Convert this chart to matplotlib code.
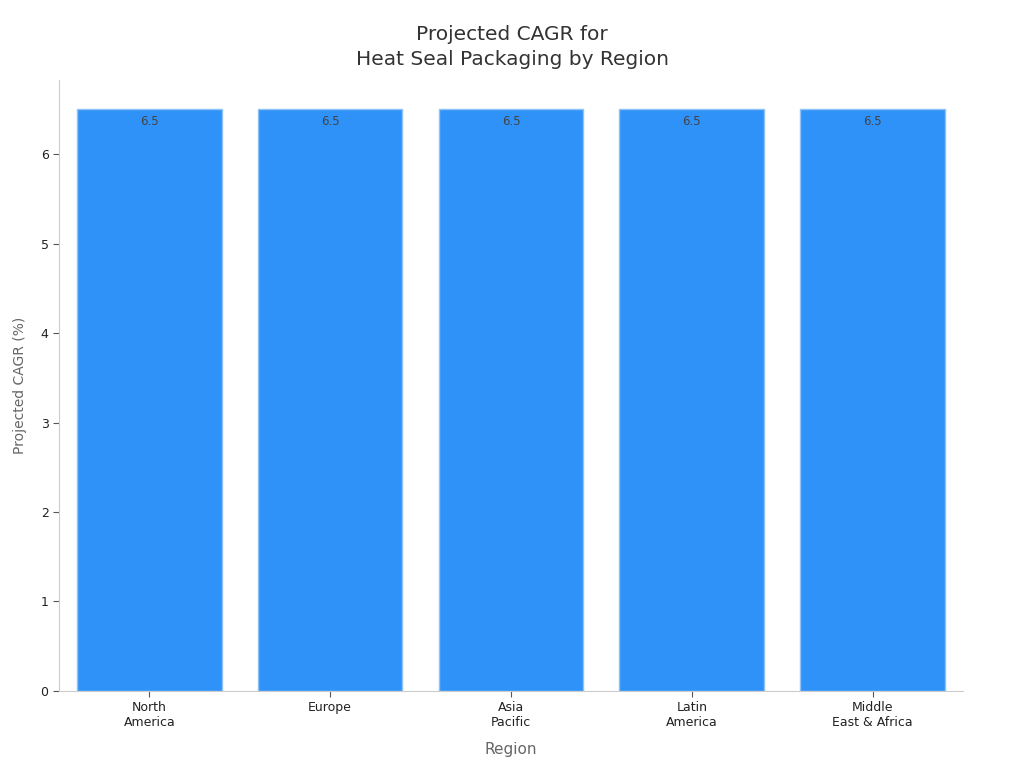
import matplotlib
matplotlib.use("Agg")
from matplotlib import pyplot as plt

regions = ["North\nAmerica", "Europe", "Asia\nPacific", "Latin\nAmerica", "Middle\nEast & Africa"]
cagr = [6.5, 6.5, 6.5, 6.5, 6.5]


def main():
    fig = plt.figure(figsize=(10.24, 7.68), dpi=100)
    ax = fig.add_axes([0.0576, 0.1003, 0.8828, 0.7957])
    x = range(len(regions))
    bars = ax.bar(x, cagr, width=0.8, color="#2f92f8", edgecolor="#8cc2f5", linewidth=1)
    for rect, v in zip(bars, cagr):
        ax.text(rect.get_x() + rect.get_width() / 2, v - 0.06, f"{v}",
                ha="center", va="top", fontsize=8.5, color="#444444")

    ax.set_xlim(-0.5, 4.5)
    ax.set_ylim(0, 6.83)
    ax.set_xticks(list(x))
    ax.set_xticklabels(regions, fontsize=9, color="#222222")
    ax.tick_params(axis="y", labelsize=9, colors="#222222")
    ax.tick_params(axis="both", color="#555555", length=4)
    for side in ("top", "right"):
        ax.spines[side].set_visible(False)
    for side in ("left", "bottom"):
        ax.spines[side].set_color("#cccccc")

    ax.set_xlabel("Region", fontsize=11, color="#666666", labelpad=9)
    ax.set_ylabel("Projected CAGR (%)", fontsize=10, color="#666666", labelpad=10)
    fig.suptitle("Projected CAGR for\nHeat Seal Packaging by Region",
                 fontsize=14.5, color="#333333", y=0.968, linespacing=1.45)
    fig.savefig("out.png")


if __name__ == "__main__":
    main()
